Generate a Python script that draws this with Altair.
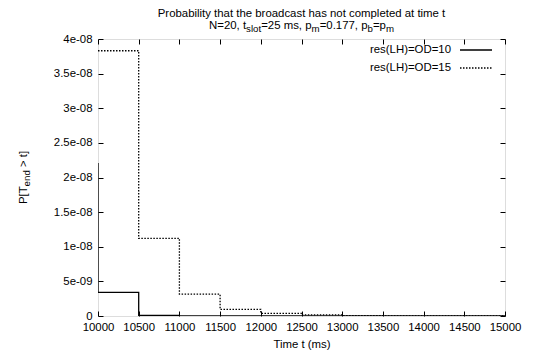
import altair as alt
import pandas as pd

# ---------------- data ----------------
series_names = ["res(LH)=OD=10", "res(LH)=OD=15"]
series_dash = [[1, 0], [1.5, 1.5]]
t_od10 = [9500, 10000, 10500, 11000, 11500, 12000, 12500, 13000, 13500, 14000, 14500, 15000]
p_od10 = [2.2e-08, 3.4e-09, 9e-11, 2e-11, 5e-12, 1e-12, 3e-13, 1e-13, 3e-14, 1e-14, 3e-15, 1e-15]
t_od15 = [10000, 10500, 11000, 11500, 12000, 12500, 13000, 13500, 14000, 14500, 15000]
p_od15 = [3.83e-08, 1.12e-08, 3.15e-09, 9.7e-10, 3.9e-10, 1.5e-10, 5e-11, 2e-11, 8e-12, 3e-12, 1e-12]

x_ticks = [10000, 10500, 11000, 11500, 12000, 12500, 13000, 13500, 14000, 14500, 15000]
y_ticks = [0, 5e-09, 1e-08, 1.5e-08, 2e-08, 2.5e-08, 3e-08, 3.5e-08, 4e-08]
y_tick_labels = ["0", "5e-09", "1e-08", "1.5e-08", "2e-08", "2.5e-08", "3e-08", "3.5e-08", "4e-08"]

title_line1 = "Probability that the broadcast has not completed at time t"
title_line2_parts = [("N=20, t", False), ("slot", True), ("=25 ms, p", False), ("m", True),
                     ("=0.177, p", False), ("b", True), ("=p", False), ("m", True)]
ylabel_parts = [("P[T", False), ("end", True), (" > t]", False)]
xlabel = "Time t (ms)"

# ---------------- layout / style ----------------
W, H = 407, 277
FONT = "Liberation Sans"
FS = 11.4
SUB = 0.85
TICK = 5

HELV = {" ": 278, ",": 278, ".": 278, "=": 584, ">": 584, "[": 278, "]": 278,
        "N": 722, "P": 667, "T": 611, "a": 556, "b": 556, "c": 500, "d": 556,
        "e": 556, "l": 222, "m": 833, "n": 556, "o": 556, "p": 556, "s": 500, "t": 278}
for ch in "0123456789":
    HELV[ch] = 556


def tw(s, size):
    return sum(HELV.get(c, 556) for c in s) / 1000.0 * size


one = pd.DataFrame({"k": [0]})


def rich_text(parts, center, base, vertical=False):
    total = sum(tw(s, FS * (SUB if sub else 1)) for s, sub in parts)
    cursor = center - total / 2 if not vertical else center + total / 2
    layers = []
    for s, sub in parts:
        size = FS * (SUB if sub else 1)
        lead = len(s) - len(s.lstrip(" "))
        off = tw(s[:lead], size)
        shift = 3 if sub else 0
        if not vertical:
            x, y, ang = cursor + off, base + shift, 0
            cursor += tw(s, size)
        else:
            x, y, ang = base + shift, cursor - off, 270
            cursor -= tw(s, size)
        layers.append(
            alt.Chart(one).mark_text(text=s.strip(" "), font=FONT, fontSize=size, align="left",
                                     baseline="alphabetic", angle=ang, color="black")
            .encode(x=alt.value(x), y=alt.value(y))
        )
    return layers


rows = []
for t, p in zip(t_od10, p_od10):
    rows.append({"t": t, "p": p, "series": series_names[0]})
for t, p in zip(t_od15, p_od15):
    rows.append({"t": t, "p": p, "series": series_names[1]})
df = pd.DataFrame(rows)

xscale = alt.Scale(domain=[10000, 15000], nice=False, zero=False)
yscale = alt.Scale(domain=[0, 4e-08], nice=False, zero=True)

label_expr = "[" + ",".join('"%s"' % s for s in y_tick_labels) + "][round(datum.value / 5e-9)]"

common_axis = dict(tickSize=TICK, offset=-TICK, domain=False, grid=False, tickColor="black",
                   tickWidth=1, labelColor="black", labelFont=FONT, labelFontSize=FS,
                   labelFlush=False, labelOverlap=False,
                   titleFont=FONT, titleFontSize=FS, titleFontWeight="normal", titleColor="black")

lines = alt.Chart(df).mark_line(interpolate="step-after", clip=True, strokeWidth=1.3, color="black").encode(
    x=alt.X("t:Q", scale=xscale,
            axis=alt.Axis(orient="bottom", values=x_ticks, format="d", labelPadding=5,
                          title=xlabel, titlePadding=6, **common_axis)),
    y=alt.Y("p:Q", scale=yscale,
            axis=alt.Axis(orient="left", values=y_ticks, labelExpr=label_expr, labelPadding=6,
                          title=None, **common_axis)),
    strokeDash=alt.StrokeDash("series:N",
                              scale=alt.Scale(domain=series_names, range=series_dash),
                              legend=None),
)

mirror = alt.Chart(df).mark_point(opacity=0, clip=True).encode(
    x=alt.X("t:Q", scale=xscale,
            axis=alt.Axis(orient="top", values=x_ticks, labels=False, title=None, **common_axis)),
    y=alt.Y("p:Q", scale=yscale,
            axis=alt.Axis(orient="right", values=y_ticks, labels=False, title=None, **common_axis)),
)

# key (gnuplot style: text on the left, line sample on the right)
KEY_TEXT_RIGHT, KEY_SAMPLE_X0, KEY_SAMPLE_X1, KEY_ROW0, KEY_DY = 353, 362, 394, 11, 18
key_layers = []
for i, (name, dash) in enumerate(zip(series_names, series_dash)):
    yy = KEY_ROW0 + KEY_DY * i
    key_layers.append(
        alt.Chart(one).mark_text(text=name, font=FONT, fontSize=FS, align="right",
                                 baseline="middle", color="black")
        .encode(x=alt.value(KEY_TEXT_RIGHT), y=alt.value(yy)))
    key_layers.append(
        alt.Chart(one).mark_rule(color="black", strokeWidth=1.3, strokeDash=dash)
        .encode(x=alt.value(KEY_SAMPLE_X0), x2=alt.value(KEY_SAMPLE_X1), y=alt.value(yy)))

title1 = alt.Chart(one).mark_text(text=title_line1, font=FONT, fontSize=FS, align="center",
                                  baseline="alphabetic", color="black").encode(
    x=alt.value(W / 2), y=alt.value(-22))

layers = [lines, mirror, title1]
layers += rich_text(title_line2_parts, W / 2, -10)
layers += rich_text(ylabel_parts, H / 2, -71, vertical=True)
layers += key_layers

chart = alt.layer(*layers).properties(
    width=W, height=H,
    autosize=alt.AutoSizeParams(type="none"),
    padding={"left": 90, "top": 31, "right": 20, "bottom": 40},
).configure_view(stroke="black", strokeWidth=1).configure(background="white")

chart.save("out.html", embed_options={"renderer": "svg", "actions": False})
